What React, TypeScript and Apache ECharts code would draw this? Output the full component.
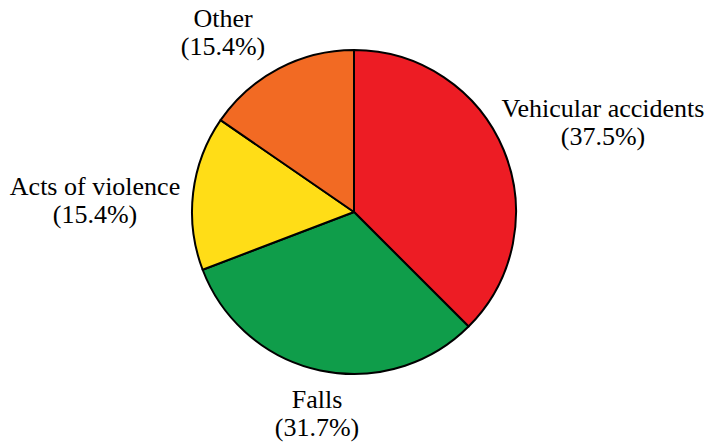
import React, { useEffect, useRef } from "react";
import * as echarts from "echarts";

const categories = ["Vehicular accidents", "Falls", "Acts of violence", "Other"];
const values = [37.5, 31.7, 15.4, 15.4];
const colors = ["#ED1C24", "#0F9D4A", "#FFDD17", "#F26A23"];

// layout: pie centre and label first-baseline offsets from that centre
const CENTER: [number, number] = [354, 212];
const RADIUS = 162;
const labelOffsets: [number, number][] = [
  [249, -95],
  [-37, 196],
  [-259, -17],
  [-131, -185],
];
const FONT = "Liberation Serif";
const FONT_SIZE = 26;
const LINE_H = 28;

export default function App() {
  const ref = useRef<HTMLDivElement>(null);
  useEffect(() => {
    if (!ref.current) return;
    const chart = echarts.init(ref.current, undefined, { renderer: "svg" });
    const labelTexts: any[] = [];
    categories.forEach((name, i) => {
      const lines = [name, `(${values[i].toFixed(1)}%)`];
      lines.forEach((t, j) => {
        labelTexts.push({
          type: "text",
          x: CENTER[0] + labelOffsets[i][0],
          y: CENTER[1] + labelOffsets[i][1] + j * LINE_H - 9,
          silent: true,
          style: {
            text: t,
            fontFamily: FONT,
            fontSize: FONT_SIZE,
            fill: "#000",
            align: "center",
            verticalAlign: "middle",
          },
        });
      });
    });
    chart.setOption({
      animation: false,
      backgroundColor: "#ffffff",
      series: [
        {
          type: "pie",
          center: CENTER,
          radius: RADIUS,
          startAngle: 90,
          clockwise: true,
          data: categories.map((name, i) => ({
            name,
            value: values[i],
            itemStyle: { color: colors[i] },
          })),
          itemStyle: { borderColor: "#000", borderWidth: 2 },
          emphasis: { disabled: true },
          label: { show: false },
          labelLine: { show: false },
        },
      ],
      graphic: labelTexts,
    });
    return () => chart.dispose();
  }, []);
  return (
    <div
      ref={ref}
      style={{ position: "fixed", left: 0, top: 0, width: 705, height: 444 }}
    />
  );
}
